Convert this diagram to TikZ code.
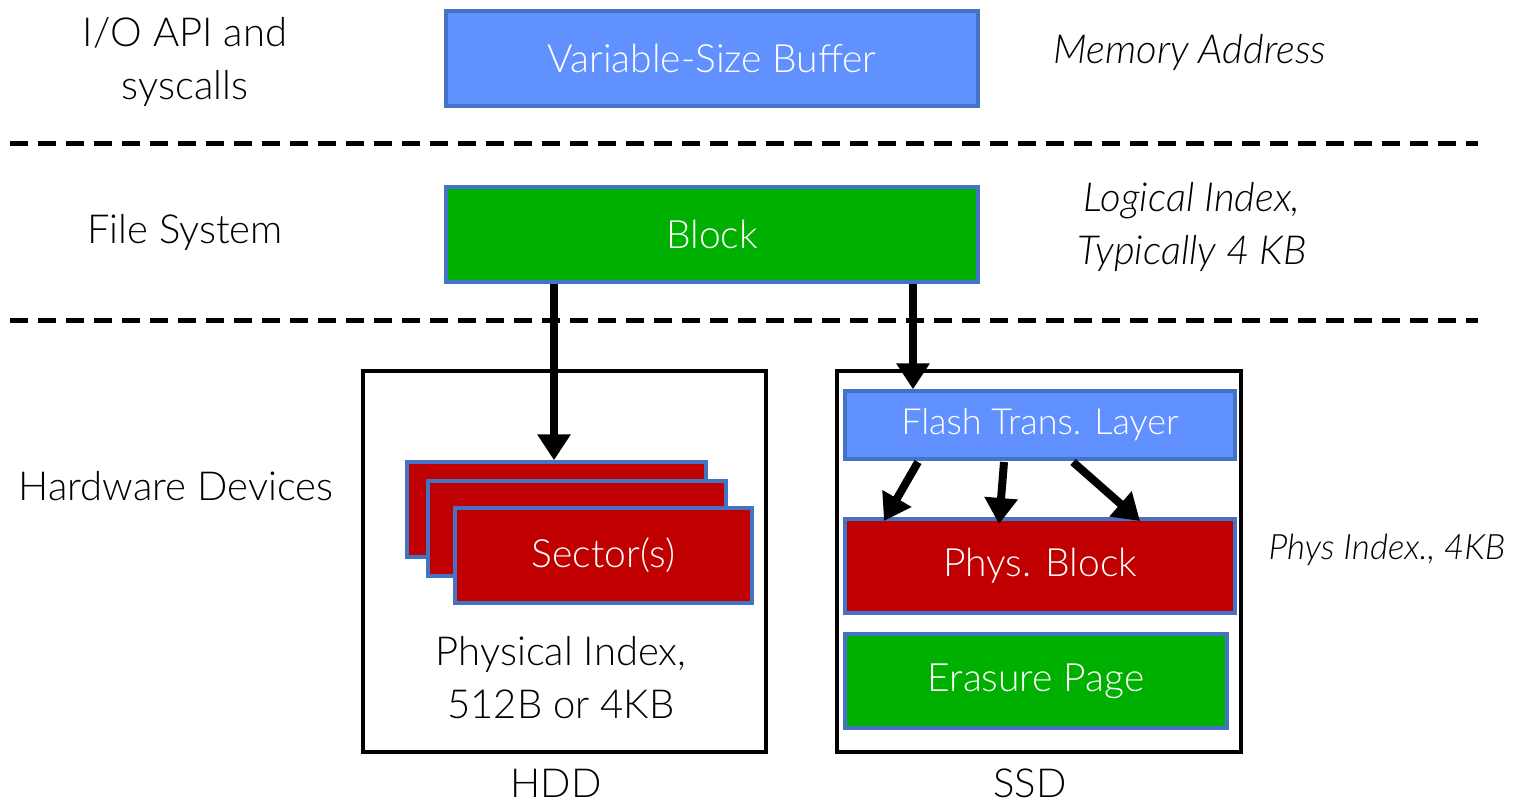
\documentclass[tikz,border=0pt]{standalone}
\usepackage{fontspec}
\IfFontExistsTF{Lato Light}{\setmainfont{Lato Light}}{\setmainfont{Lato}}
\usetikzlibrary{arrows.meta}
\definecolor{bblue}{HTML}{6190FF}
\definecolor{bedge}{HTML}{4472C4}
\definecolor{bgreen}{HTML}{00B000}
\definecolor{bred}{HTML}{C00000}
\tikzset{
  fbox/.style={draw=bedge, line width=3.5pt, text=white, inner sep=0pt},
  bluebox/.style={fbox, fill=bblue},
  greenbox/.style={fbox, fill=bgreen},
  redbox/.style={fbox, fill=bred},
  devbox/.style={draw=black, line width=3.5pt},
  sep/.style={line width=5pt, dash pattern=on 18pt off 10pt},
  bigarrow/.style={line width=8pt, -{Triangle[width=32pt,length=26pt]}},
  lbl/.style={font=\fontsize{40}{53}\selectfont, align=center},
  ilbl/.style={font=\fontsize{40}{53}\selectfont\itshape, align=center},
  btxt/.style={font=\fontsize{39}{46}\selectfont},
}
\begin{document}
\begin{tikzpicture}[x=1pt,y=-1pt]
\useasboundingbox (0,0) rectangle (1513,804);
% separators
\coordinate (s1a) at (10,143); \coordinate (s1b) at (1478,143);
\coordinate (s2a) at (10,320); \coordinate (s2b) at (1478,320);
\draw[sep] (s1a) -- (s1b);
\draw[sep] (s2a) -- (s2b);
% top boxes
\node[bluebox, minimum width=532pt, minimum height=95pt, btxt] (vsb) at (712,58.5) {Variable-Size Buffer};
\node[greenbox, minimum width=532pt, minimum height=95pt, btxt] (blk) at (712,234.5) {Block};
% device boxes
\draw[devbox] (363,371) rectangle (766,752);
\draw[devbox] (837,371) rectangle (1241,752);
\node[lbl] (hdd) at (556,783) {HDD};
\node[lbl] (ssd) at (1030,783) {SSD};
% sectors
\node[redbox, minimum width=299pt, minimum height=95pt] (sec1) at (556.5,509.5) {};
\node[redbox, minimum width=298pt, minimum height=95pt] (sec2) at (577,528.5) {};
\node[redbox, minimum width=297pt, minimum height=95pt, btxt] (sec3) at (603.5,555.5) {Sector(s)};
\node[lbl] (pidx) at (561,678) {Physical Index,\\512B or 4KB};
% SSD inner
\node[bluebox, minimum width=390pt, minimum height=68pt, font=\fontsize{36}{42}\selectfont] (ftl) at (1040,425) {Flash Trans. Layer};
\node[redbox, minimum width=390pt, minimum height=94pt, btxt] (pb) at (1040,566) {Phys. Block};
\node[greenbox, minimum width=382pt, minimum height=94pt, btxt] (ep) at (1036,681) {Erasure Page};
% left labels
\node[lbl] (l1) at (185,62) {I/O API and\\syscalls};
\node[lbl] (l2) at (185,232) {File System};
\node[lbl] (l3) at (176,486) {Hardware Devices};
% right labels
\node[ilbl] (r1) at (1190,52) {Memory Address};
\node[ilbl] (r2) at (1192,227) {Logical Index,\\Typically 4 KB};
\node[ilbl, font=\fontsize{35}{40}\selectfont\itshape] (r3) at (1387,550) {Phys Index., 4KB};
% arrows
\draw[bigarrow] (blk.south -| 554,0) -- (sec1.north -| 554,0);
\draw[bigarrow] (blk.south -| 913,0) -- (ftl.north -| 913,0);
\coordinate (f1) at (918,462); \coordinate (t1) at (884,521);
\coordinate (f2) at (1004,462); \coordinate (t2) at (999,524);
\coordinate (f3) at (1073,462); \coordinate (t3) at (1140,521);
\draw[bigarrow] (f1) -- (t1);
\draw[bigarrow] (f2) -- (t2);
\draw[bigarrow] (f3) -- (t3);
\end{tikzpicture}
\end{document}
